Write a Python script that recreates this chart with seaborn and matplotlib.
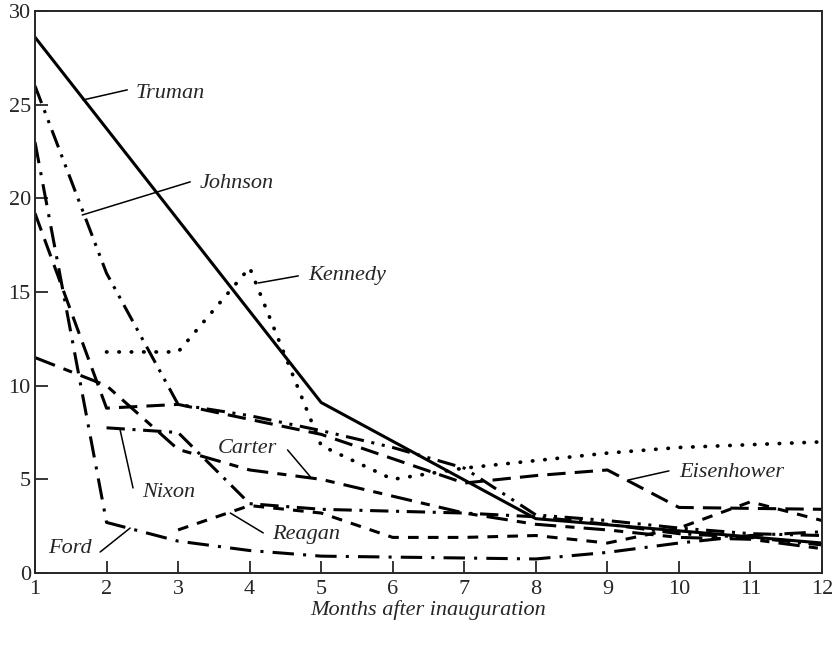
"""
Share of 'no opinion' answers in the months after inauguration
"""
import numpy as np
import pandas as pd
import matplotlib
matplotlib.use('Agg')
import matplotlib.pyplot as plt
import seaborn as sns

sns.set_style('ticks')
plt.rcParams['font.family'] = ['Liberation Serif', 'DejaVu Serif']
plt.rcParams['font.size'] = 14

nan = np.nan
months = list(range(1, 13))

# values (nan = no point that month)
truman = [28.6, nan, nan, nan, 9.1, nan, nan, 2.9, nan, nan, nan, 1.6]
eisenhower = [19.2, 8.8, 9.0, 8.2, 7.4, 6.1, 4.8, 5.2, 5.5, 3.5, 3.45, 3.4]
kennedy = [nan, 11.8, 11.8, 16.3, 6.8, 5.0, 5.6, 6.0, 6.4, 6.7, 6.85, 7.0]
johnson = [26.0, 16.0, 9.0, 8.4, 7.6, 6.7, 5.6, 3.1, 2.8, 2.4, 2.1, 2.0]
nixon = [nan, 7.75, 7.5, 3.7, 3.4, 3.3, 3.2, 3.0, 2.6, 2.1, 1.9, 1.5]
ford = [23.0, 2.7, 1.7, 1.2, 0.9, 0.85, 0.8, 0.75, 1.1, 1.6, 2.0, 2.2]
carter = [11.5, 10.0, 6.6, 5.5, 5.0, 4.1, 3.2, 2.6, 2.3, 1.9, 1.8, 1.3]
reagan = [nan, nan, 2.3, 3.6, 3.2, 1.9, 1.9, 2.0, 1.6, 2.4, 3.8, 2.8]

series = {
    'Truman': truman, 'Eisenhower': eisenhower, 'Kennedy': kennedy,
    'Johnson': johnson, 'Nixon': nixon, 'Ford': ford,
    'Carter': carter, 'Reagan': reagan,
}

# line patterns
styles = {
    'Truman': None,
    'Eisenhower': (6, 3),
    'Kennedy': (0.1, 3.2),
    'Johnson': (6, 2.5, 1, 2.5, 1, 2.5),
    'Nixon': (6, 2.5, 1, 2.5),
    'Ford': (7, 3, 1, 3),
    'Carter': (7, 3, 3, 3),
    'Reagan': (3.5, 3),
}

# label text position, pointer start (on line), pointer end (near text)
labels = {
    'Truman': ((2.40, 25.6), (1.67, 25.25), (2.29, 25.79)),
    'Johnson': ((3.30, 20.8), (1.66, 19.11), (3.17, 20.88)),
    'Kennedy': ((4.82, 15.9), (4.12, 15.48), (4.68, 15.86)),
    'Carter': ((3.56, 6.67), (4.85, 5.13), (4.53, 6.57)),
    'Nixon': ((2.50, 4.32), (2.19, 7.63), (2.37, 4.54)),
    'Reagan': ((4.32, 2.03), (3.73, 3.20), (4.19, 2.14)),
    'Ford': ((1.18, 1.33), (2.33, 2.40), (1.91, 1.12)),
    'Eisenhower': ((10.0, 5.39), (9.30, 4.97), (9.86, 5.45)),
}

fig = plt.figure(figsize=(8.36, 6.49), dpi=100)
ax = fig.add_axes([35 / 836, 1 - 573 / 649, 787 / 836, 562 / 649])

for name, vals in series.items():
    df = pd.DataFrame({'month': months, 'value': vals}).dropna()
    sns.lineplot(data=df, x='month', y='value', ax=ax, color='black',
                 linewidth=2.2 if name != 'Kennedy' else 2.7)
    ln = ax.lines[-1]
    if styles[name] is not None:
        ln.set_dashes(styles[name])
    if name == 'Kennedy':
        ln.set_dash_capstyle('round')

for name, (txt, p0, p1) in labels.items():
    ax.plot([p0[0], p1[0]], [p0[1], p1[1]], color='black', linewidth=1.1)
    ax.text(txt[0], txt[1], name, fontstyle='italic', fontsize=16,
            ha='left', va='center')

ax.set_xlim(1, 12)
ax.set_ylim(0, 30)
ax.set_xticks(months)
ax.set_yticks(range(0, 31, 5))
ax.tick_params(direction='in', length=9, width=1.3, labelsize=16, pad=5)
ax.tick_params(axis='y', pad=3)
for sp in ax.spines.values():
    sp.set_linewidth(1.4)
    sp.set_visible(True)
ax.set_xlabel('Months after inauguration', fontstyle='italic', fontsize=16, labelpad=1)
ax.set_ylabel('')

plt.savefig('out.png', dpi=100)
